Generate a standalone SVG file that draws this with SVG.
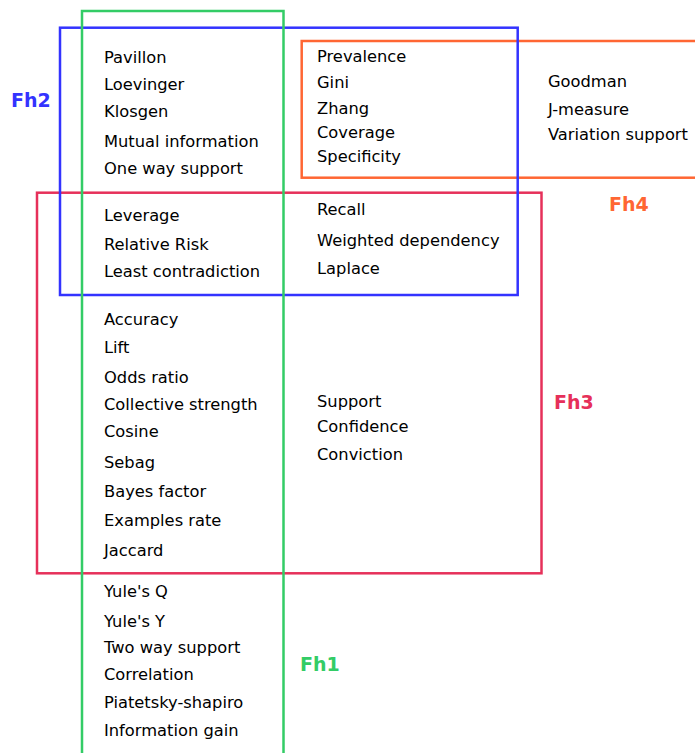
<svg xmlns="http://www.w3.org/2000/svg" width="695" height="753" viewBox="0 0 695 753">
<style>
.box{fill:none;stroke-width:2.5}
.t{font-family:"DejaVu Sans",sans-serif;font-size:16.3px;fill:#000}
.lbl{font-family:"DejaVu Sans",sans-serif;font-size:19px;font-weight:bold}
</style>
<rect width="695" height="753" fill="#fff"/>
<g id="Fh3">
<rect class="box" x="37" y="192.7" width="504.5" height="380.6" stroke="#e6305a"/>
<text class="lbl" x="554" y="409" fill="#e6305a">Fh3</text>
</g>
<g id="Fh4">
<rect class="box" x="301.7" y="41" width="420" height="136.7" stroke="#ff6633"/>
<text class="lbl" x="609" y="211" fill="#ff6633">Fh4</text>
</g>
<g id="Fh2">
<rect class="box" x="60" y="27.7" width="457.7" height="267.3" stroke="#3333ff"/>
<text class="lbl" x="11" y="107" fill="#3333ff">Fh2</text>
</g>
<g id="Fh1">
<rect class="box" x="82" y="11" width="201.5" height="760" stroke="#33cc66"/>
<text class="lbl" x="300" y="671" fill="#33cc66">Fh1</text>
</g>
<g id="connectors"/>
<g id="measures" class="t">
<text x="104" y="63">Pavillon</text>
<text x="104" y="90">Loevinger</text>
<text x="104" y="117">Klosgen</text>
<text x="104" y="147">Mutual information</text>
<text x="104" y="174">One way support</text>
<text x="104" y="221">Leverage</text>
<text x="104" y="250">Relative Risk</text>
<text x="104" y="277">Least contradiction</text>
<text x="104" y="325">Accuracy</text>
<text x="104" y="353">Lift</text>
<text x="104" y="383">Odds ratio</text>
<text x="104" y="410">Collective strength</text>
<text x="104" y="437">Cosine</text>
<text x="104" y="468">Sebag</text>
<text x="104" y="497">Bayes factor</text>
<text x="104" y="526">Examples rate</text>
<text x="104" y="556">Jaccard</text>
<text x="104" y="597">Yule's Q</text>
<text x="104" y="627">Yule's Y</text>
<text x="104" y="653">Two way support</text>
<text x="104" y="680">Correlation</text>
<text x="104" y="708">Piatetsky-shapiro</text>
<text x="104" y="736">Information gain</text>
<text x="317" y="62">Prevalence</text>
<text x="317" y="88">Gini</text>
<text x="317" y="114">Zhang</text>
<text x="317" y="138">Coverage</text>
<text x="317" y="162">Specificity</text>
<text x="548" y="87">Goodman</text>
<text x="548" y="115">J-measure</text>
<text x="548" y="140">Variation support</text>
<text x="317" y="215">Recall</text>
<text x="317" y="246">Weighted dependency</text>
<text x="317" y="274">Laplace</text>
<text x="317" y="407">Support</text>
<text x="317" y="432">Confidence</text>
<text x="317" y="460">Conviction</text>
</g>
</svg>
